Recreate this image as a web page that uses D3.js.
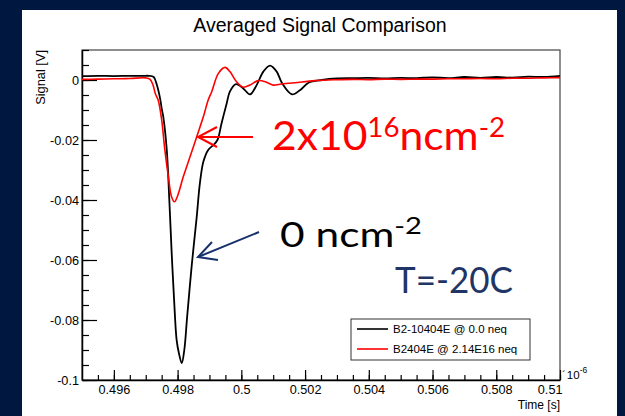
<!DOCTYPE html>
<meta charset="utf-8">
<style>
  body { margin: 0; background: #00183f; }
  svg { display: block; }
  .root text { font-family: "Liberation Sans", Arial, sans-serif; fill: #000; }
  .axis path { stroke: #000; stroke-width: 1.5; }
  .axis line { stroke: #000; stroke-width: 1.2; }
  .axis text { font-size: 12.7px; }
  .note { font-family: Lato, "Open Sans", sans-serif; }
</style>
<svg width="625" height="416"></svg>
<script src="https://d3js.org/d3.v7.min.js"></script>
<script>
// curves (time in units of 1e-6 s, signal in V)
var timeBlack = [0.495, 0.4955, 0.496, 0.4965, 0.497, 0.49709, 0.49725, 0.49735, 0.49746, 0.4975,
  0.49755, 0.49766, 0.49774, 0.49781, 0.49789, 0.49797, 0.49804, 0.49813, 0.49821, 0.4983,
  0.49844, 0.4986, 0.4987, 0.49881, 0.49896, 0.49912, 0.49925, 0.49938, 0.49954, 0.49964,
  0.49983, 0.50006, 0.50027, 0.50048, 0.50069, 0.5009, 0.50111, 0.50128, 0.50159, 0.50185,
  0.50211, 0.50253, 0.503, 0.5035, 0.504, 0.5045, 0.505, 0.5055, 0.506, 0.5065, 0.507,
  0.5075, 0.508, 0.5085, 0.509, 0.5095, 0.51];
var sigBlack = [0.0013, 0.0014, 0.0013, 0.0014, 0.0014, 0.0014, 0.0010, -0.0017, -0.0067, -0.0095,
  -0.0122, -0.0233, -0.04, -0.0567, -0.0733, -0.0867, -0.091, -0.0944, -0.09, -0.0789,
  -0.0622, -0.0456, -0.0344, -0.0272, -0.0233, -0.0217, -0.02, -0.0144, -0.0078, -0.0039,
  -0.0014, -0.0028, -0.0048, -0.0017, 0.0028, 0.0048, 0.0028, -0.0011, -0.0048, -0.0033,
  -0.0009, 0.0, 0.0005, 0.0006, 0.0007, 0.0005, 0.0007, 0.0006, 0.0009, 0.0006, 0.0010,
  0.0007, 0.0010, 0.0008, 0.0011, 0.0010, 0.0014];

var timeRed = [0.495, 0.4955, 0.496, 0.4965, 0.497, 0.49713, 0.49723, 0.4973, 0.49739, 0.4975,
  0.4976, 0.49771, 0.49781, 0.4979, 0.49799, 0.49818, 0.49839, 0.4986, 0.49881, 0.49896,
  0.49907, 0.49928, 0.49949, 0.49964, 0.49985, 0.50006, 0.50027, 0.50053, 0.5008, 0.50101,
  0.50121, 0.50168, 0.50231, 0.503, 0.5035, 0.504, 0.5045, 0.505, 0.5055, 0.506, 0.5065,
  0.507, 0.5075, 0.508, 0.5085, 0.509, 0.5095, 0.51];
var sigRed = [0.0002, 0.0003, 0.0004, 0.0005, 0.0007, 0.0003, -0.0017, -0.0045, -0.0067, -0.0133,
  -0.0233, -0.0322, -0.0389, -0.0406, -0.0389, -0.0322, -0.0256, -0.0189, -0.0122, -0.0067,
  -0.0039, 0.0022, 0.0042, 0.0028, -0.0006, -0.0024, -0.0017, -0.0002, -0.0008, -0.0017,
  -0.0014, -0.0009, -0.0002, 0.0001, 0.0002, 0.0001, 0.0003, 0.0002, 0.0003, 0.0003, 0.0004,
  0.0004, 0.0005, 0.0004, 0.0006, 0.0006, 0.0007, 0.0008];

var xMajor = [0.496, 0.498, 0.5, 0.502, 0.504, 0.506, 0.508, 0.51];
var xMinor = d3.range(0.4955, 0.5101, 0.0005);
var yMajor = [0, -0.02, -0.04, -0.06, -0.08, -0.1];
var yMinor = d3.range(-0.1, 0.0101, 0.005);

var seriesNames = ["B2-10404E @ 0.0 neq", "B2404E @ 2.14E16 neq"];
var seriesColors = ["#000000", "#ff0000"];

var svg = d3.select("svg");

// white pad
svg.append("rect").attr("x", 22).attr("y", 10).attr("width", 595).attr("height", 406).attr("fill", "#fff");

var g = svg.append("g").attr("class", "root");

var x = d3.scaleLinear().domain([0.495, 0.51]).range([82, 560]);
var y = d3.scaleLinear().domain([-0.1, 0.01]).range([380, 50]);

// frame
g.append("rect").attr("x", 82).attr("y", 50).attr("width", 478).attr("height", 330)
  .attr("fill", "none").attr("stroke", "#444").attr("stroke-width", 1.2);

// minor ticks
g.append("g").attr("class", "axis").attr("transform", "translate(0,380)")
  .call(d3.axisBottom(x).tickValues(xMinor).tickSize(-5).tickFormat(""))
  .select(".domain").remove();
g.append("g").attr("class", "axis").attr("transform", "translate(82,0)")
  .call(d3.axisLeft(y).tickValues(yMinor).tickSize(-7).tickFormat(""))
  .select(".domain").remove();

// major axes
var xAxis = g.append("g").attr("class", "axis").attr("transform", "translate(0,380)")
  .call(d3.axisBottom(x).tickValues(xMajor).tickSize(-10).tickSizeOuter(0).tickPadding(5)
    .tickFormat(function (d) { return String(+d.toFixed(3)); }));
xAxis.selectAll(".tick").filter(function (d) { return d === 0.51; })
  .select("text").attr("text-anchor", "end").attr("dx", 2);

g.append("g").attr("class", "axis").attr("transform", "translate(82,0)")
  .call(d3.axisLeft(y).tickValues(yMajor).tickSize(-15).tickSizeOuter(0).tickPadding(3)
    .tickFormat(function (d) { return String(+d.toFixed(2)); }));

// exponent
var ex = g.append("text").attr("x", 562).attr("y", 379).style("font-size", "11.5px");
ex.append("tspan").text("\u00b4");
ex.append("tspan").attr("dx", 1).text("10");
ex.append("tspan").attr("dy", -6).style("font-size", "8.5px").text("-6");

// titles
g.append("text").attr("x", 320).attr("y", 32).attr("text-anchor", "middle")
  .style("font-size", "19.5px").text("Averaged Signal Comparison");
g.append("text").attr("x", 560).attr("y", 409).attr("text-anchor", "end")
  .style("font-size", "12px").text("Time [s]");
g.append("text").attr("transform", "translate(45,50) rotate(-90)").attr("text-anchor", "end")
  .style("font-size", "12.8px").text("Signal [V]");

// curves
var line = d3.line()
  .x(function (d) { return x(d[0]); })
  .y(function (d) { return y(d[1]); })
  .curve(d3.curveCatmullRom.alpha(0.5));

g.append("path").datum(d3.zip(timeBlack, sigBlack)).attr("d", line)
  .attr("fill", "none").attr("stroke", seriesColors[0]).attr("stroke-width", 1.8);
g.append("path").datum(d3.zip(timeRed, sigRed)).attr("d", line)
  .attr("fill", "none").attr("stroke", seriesColors[1]).attr("stroke-width", 1.6);

// legend
var leg = g.append("g").attr("transform", "translate(351,319)");
leg.append("rect").attr("width", 179).attr("height", 41)
  .attr("fill", "#fff").attr("stroke", "#333").attr("stroke-width", 1);
seriesNames.forEach(function (name, i) {
  var yy = 10 + i * 20;
  leg.append("line").attr("x1", 6).attr("x2", 37).attr("y1", yy).attr("y2", yy)
    .attr("stroke", seriesColors[i]).attr("stroke-width", 1.6);
  leg.append("text").attr("x", 42).attr("y", yy + 4).style("font-size", "11.5px").text(name);
});

// annotations: [text, superscript] pairs in one text element each
function note(parts, px, py, size, supSize, rise, len, color) {
  var t = svg.append("text").attr("class", "note").attr("x", px).attr("y", py)
    .attr("textLength", len).attr("lengthAdjust", "spacingAndGlyphs")
    .style("font-size", size + "px").attr("fill", color);
  parts.forEach(function (p, i) {
    var sup = i % 2 === 1;
    t.append("tspan").attr("dy", i === 0 ? 0 : (sup ? -rise : rise))
      .style("font-size", (sup ? supSize : size) + "px").text(p);
  });
}
note(["2x10", "16", "ncm", "-2"], 272, 150, 40, 26, 13, 233, "#ff0000");
note(["0 ncm", "-2"], 280, 247, 35, 24, 13, 142, "#000");
note(["T=-20C"], 395, 293, 36, 0, 0, 118, "#1f3566");

function arrow(from, tip, w1, w2, color) {
  var a = svg.append("g").attr("stroke", color).attr("stroke-width", 2).attr("fill", "none");
  a.append("line").attr("x1", from[0]).attr("y1", from[1]).attr("x2", tip[0]).attr("y2", tip[1]);
  a.append("polyline").attr("points", [w1, tip, w2].map(function (p) { return p.join(","); }).join(" "));
}
arrow([253, 137], [198, 137], [217, 127], [217, 147], "#ff0000");
arrow([259, 232], [198, 257], [212, 242], [218, 260], "#17306b");
</script>
